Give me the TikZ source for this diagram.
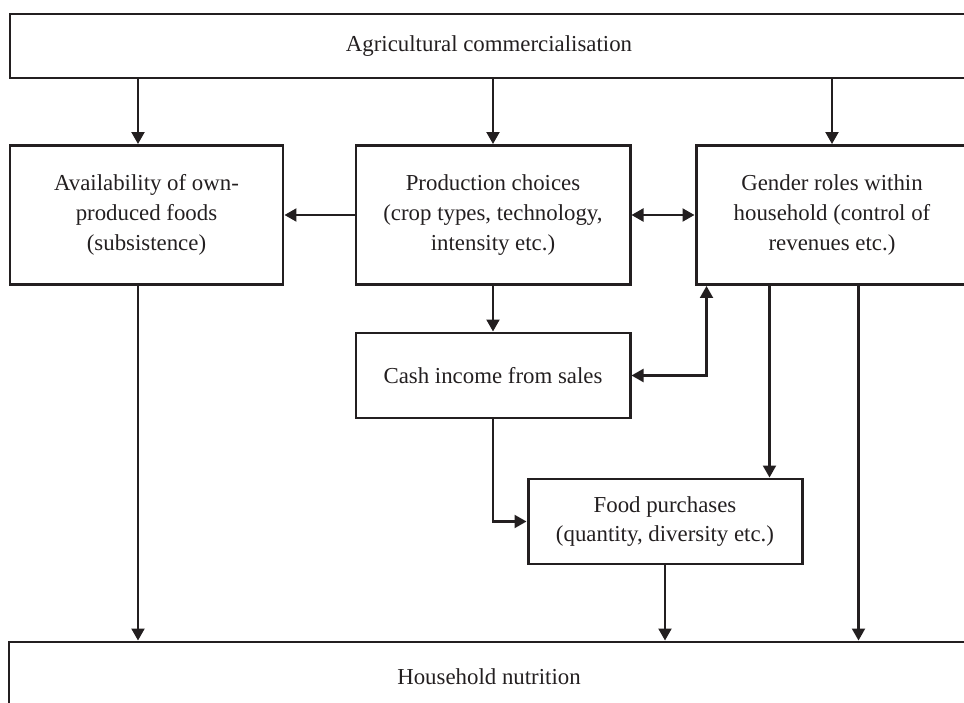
\documentclass[tikz,border=0pt]{standalone}
\usepackage{fontspec}
\setmainfont{Liberation Serif}
\usetikzlibrary{arrows.meta}

\definecolor{ink}{HTML}{231F20}

\tikzset{
  box/.style={draw=ink,text=ink,line width=1.7pt,inner sep=0pt,align=center,
    font=\fontsize{13}{17}\selectfont},
  flow/.style={draw=ink,line width=1.2pt}
}

\begin{document}
\begin{tikzpicture}[>={Triangle[length=0.24cm,width=0.26cm]}]

  % 画幅:与原图同比例(964 x 703),超出部分裁掉
  \useasboundingbox (0,0) rectangle (19.28,-14.06);
  \clip (0,0) rectangle (19.28,-14.06);

  % 顶部与底部的长框
  \node[box,minimum width=19.16cm,minimum height=1.28cm] (agri) at (9.78,-0.92) {Agricultural commercialisation};
  \node[box,minimum width=19.2cm,minimum height=1.4cm] (nutr) at (9.78,-13.54) {Household nutrition};

  % 第二行三个框
  \node[box,minimum width=5.46cm,minimum height=2.78cm] (avail) at (2.93,-4.30) {Availability of own-\\produced foods\\(subsistence)};
  \node[box,minimum width=5.48cm,minimum height=2.78cm] (prod) at (9.86,-4.30) {Production choices\\(crop types, technology,\\intensity etc.)};
  \node[box,minimum width=5.44cm,minimum height=2.78cm] (gender) at (16.64,-4.30) {Gender roles within\\household (control of\\revenues etc.)};

  % 中间两个框
  \node[box,minimum width=5.48cm,minimum height=1.7cm] (cash) at (9.86,-7.51) {Cash income from sales};
  \node[box,minimum width=5.48cm,minimum height=1.7cm] (food) at (13.30,-10.43) {Food purchases\\(quantity, diversity etc.)};

  % 由顶部向下
  \draw[flow,->] ([xshift=-0.17cm]avail.north |- agri.south) -- ([xshift=-0.17cm]avail.north);
  \draw[flow,->] (prod.north |- agri.south) -- (prod.north);
  \draw[flow,->] (gender.north |- agri.south) -- (gender.north);

  % 第二行之间
  \draw[flow,->] (prod.west) -- (avail.east);
  \draw[flow,<->] (prod.east) -- (gender.west);

  % 生产 -> 现金收入 <-> 性别角色
  \draw[flow,->] (prod.south) -- (cash.north);
  \draw[flow,<->] (cash.east) -| ([xshift=0.24cm]gender.south west);

  % 进入食品购买
  \draw[flow,->] (cash.south) |- (food.west);
  \draw[flow,->] ([xshift=1.5cm]gender.south west) -- ([xshift=1.5cm]gender.south west |- food.north);

  % 进入家庭营养
  \draw[flow,->] ([xshift=-0.17cm]avail.south) -- ([xshift=-0.17cm]avail.south |- nutr.north);
  \draw[flow,->] (food.south) -- (food.south |- nutr.north);
  \draw[flow,->] ([xshift=3.28cm]gender.south west) -- ([xshift=3.28cm]gender.south west |- nutr.north);

\end{tikzpicture}
\end{document}
